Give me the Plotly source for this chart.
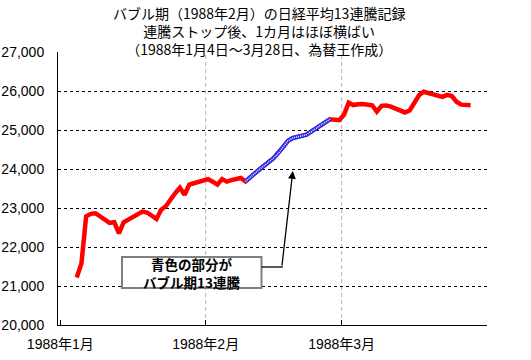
import plotly.graph_objects as go

# ---- data (Nikkei 225 daily close, 1988-01-04 .. 1988-03-28) ----
jan_days = [4, 5, 6, 7, 8, 11, 12, 13, 14, 18, 19, 20, 21, 22, 23, 25, 26, 27, 28, 29, 30]
jan_vals = [21217, 21580, 22785, 22850, 22865, 22620, 22635, 22350, 22635, 22910, 22885,
            22790, 22720, 22955, 23045, 23380, 23520, 23340, 23600, 23635, 23675]
feb_days = [1, 2, 3, 4, 5, 6, 8, 9, 10, 12, 15, 16, 17, 18, 19, 22, 23, 24, 25, 26, 27, 29]
feb_vals = [23740, 23675, 23600, 23740, 23675, 23715, 23770, 23680, 23790, 23995, 24280,
            24405, 24560, 24715, 24790, 24880, 24955, 25045, 25125, 25195, 25275, 25250]
mar_days = [1, 2, 3, 4, 5, 7, 8, 9, 10, 11, 14, 15, 16, 17, 18, 22, 23, 24, 25, 26, 28]
mar_vals = [25390, 25700, 25640, 25660, 25665, 25635, 25470, 25620, 25630, 25600, 25450,
            25500, 25700, 25890, 25980, 25850, 25900, 25870, 25725, 25650, 25635]

streak_start = "1988-02-09"
streak_end = "1988-02-27"

month_ticks = ["1988-01-01", "1988-02-01", "1988-03-01"]
month_labels = ["1988年1月", "1988年2月", "1988年3月"]
y_ticks = [20000, 21000, 22000, 23000, 24000, 25000, 26000, 27000]

title_lines = ["バブル期（1988年2月）の日経平均13連騰記録",
               "連騰ストップ後、1カ月はほぼ横ばい",
               "（1988年1月4日～3月28日、為替王作成）"]
note_lines = ["青色の部分が", "バブル期13連騰"]

# ---- build series ----
dates, values = [], []
for m, days, vals in [(1, jan_days, jan_vals), (2, feb_days, feb_vals), (3, mar_days, mar_vals)]:
    for d, v in zip(days, vals):
        dates.append(f"1988-{m:02d}-{d:02d}")
        values.append(v)
x_all = [d + " 12:00" for d in dates]
s_idx = [i for i, d in enumerate(dates) if streak_start <= d <= streak_end]
x_blue = [x_all[i] for i in s_idx]
y_blue = [values[i] for i in s_idx]

FONT = "Liberation Sans, Arial, Noto Sans CJK JP, sans-serif"
JFONT = "Noto Sans CJK JP, sans-serif"

W, H = 531, 360
L, R, T, B = 58, 487, 52, 325
PW, PH = R - L, B - T


def px(x):
    return (x - L) / PW


def py(y):
    return (B - y) / PH


fig = go.Figure()
fig.add_trace(go.Scatter(x=x_all, y=values, mode="lines",
                         line=dict(color="#ff0000", width=4.5), hoverinfo="skip"))
fig.add_trace(go.Scatter(x=x_blue, y=y_blue, mode="lines",
                         line=dict(color="#1030ff", width=4), hoverinfo="skip"))
fig.add_trace(go.Scatter(x=x_blue, y=y_blue, mode="lines",
                         line=dict(color="#ffffff", width=1.5, dash="1px,1px"), hoverinfo="skip"))

# vertical month gridlines (except the first, which is the axis)
for t in month_ticks[1:]:
    fig.add_shape(type="line", xref="x", yref="paper", x0=t, x1=t, y0=0, y1=1,
                  line=dict(color="#b4b4b4", width=1, dash="4px,3px"), layer="below")

# title
fig.add_annotation(xref="paper", yref="paper", x=px(258.5), y=py(31.3), xanchor="center", yanchor="middle",
                   text="<br>".join(title_lines), showarrow=False,
                   font=dict(family=JFONT, size=14, color="#000000"))

# note box
fig.add_shape(type="rect", xref="paper", yref="paper",
              x0=px(122), x1=px(261.5), y0=py(288), y1=py(257),
              line=dict(color="#808080", width=2), fillcolor="#ffffff", layer="above")
fig.add_annotation(xref="paper", yref="paper", x=px(191), y=py(273),
                   text="<b>" + "<br>".join(note_lines) + "</b>", showarrow=False,
                   xanchor="center", yanchor="middle",
                   font=dict(family=JFONT, size=13.5, color="#000000"))
# connector
fig.add_shape(type="line", xref="paper", yref="paper",
              x0=px(261.5), x1=px(283), y0=py(267), y1=py(267),
              line=dict(color="#000000", width=1.3))
fig.add_annotation(x="1988-02-19 14:00", y=23950, xref="x", yref="y", text="",
                   showarrow=True, ax=-11, ay=96, axref="pixel", ayref="pixel",
                   arrowhead=2, arrowsize=1.2, arrowwidth=1.3, arrowcolor="#000000", standoff=0)

fig.update_layout(
    width=W, height=H,
    margin=dict(l=L, r=W - R, t=T, b=H - B, autoexpand=False),
    paper_bgcolor="#ffffff", plot_bgcolor="#ffffff",
    showlegend=False,
    font=dict(family=FONT, size=14, color="#000000"),
)
fig.update_xaxes(type="date", range=["1987-12-31 12:00", "1988-04-01 00:00"],
                 tickvals=month_ticks, ticktext=month_labels,
                 ticks="inside", ticklen=5, tickcolor="#000000",
                 showgrid=False, zeroline=False, automargin=False,
                 showline=True, linecolor="#000000", linewidth=1,
                 tickfont=dict(family=FONT, size=14), ticklabelstandoff=6)
fig.update_yaxes(range=[20000, 27000], tickvals=y_ticks, tickformat=",d",
                 ticks="", showgrid=True, gridcolor="#000000", gridwidth=1, griddash="3px,3px",
                 zeroline=False, showline=True, linecolor="#000000", linewidth=1, automargin=False,
                 tickfont=dict(family=FONT, size=14), ticklabelstandoff=10)

fig.write_html("out.html", config={"displayModeBar": False},
               post_script="document.body.style.margin='0';document.body.style.padding='0';")
